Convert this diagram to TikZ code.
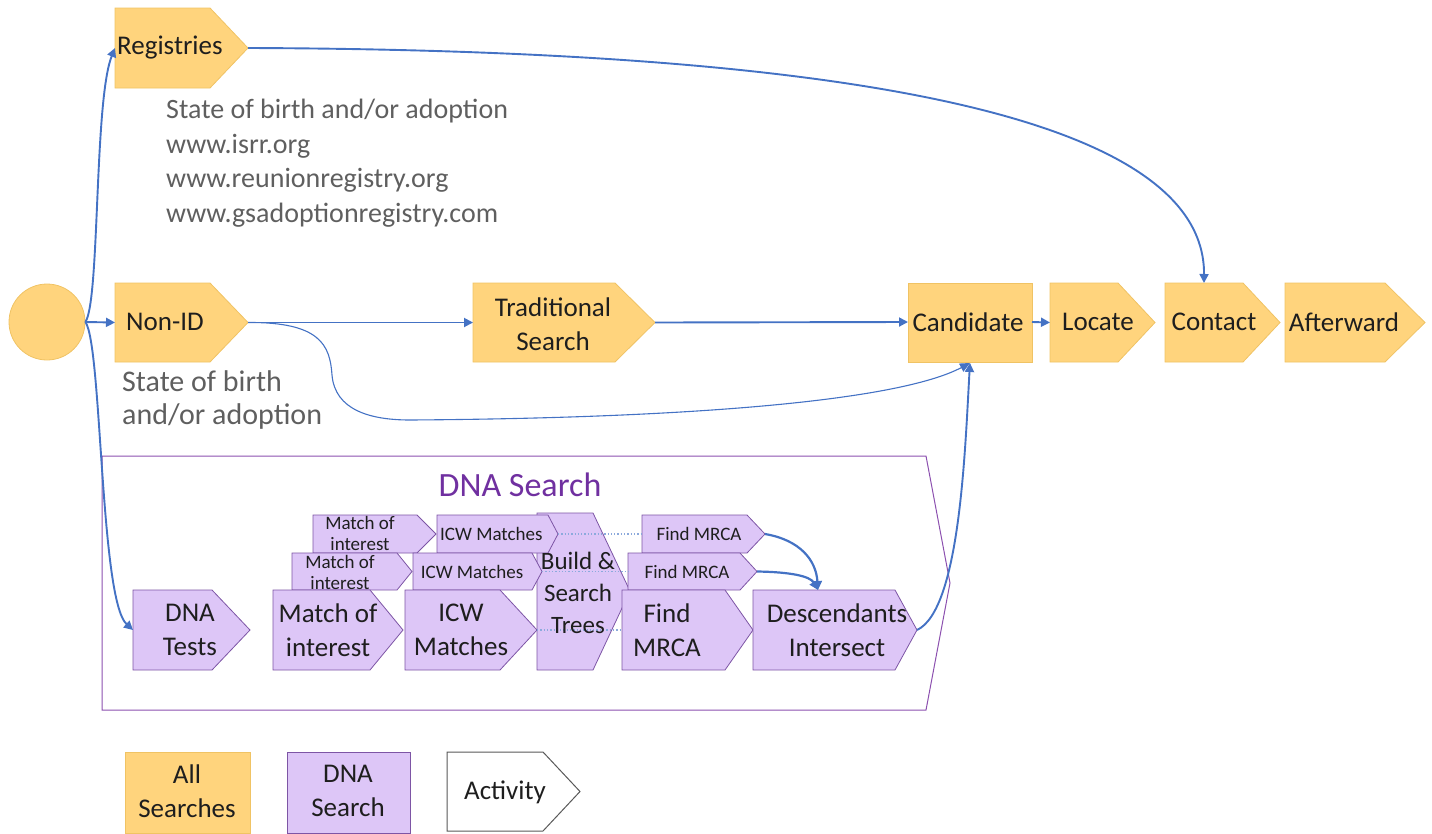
\documentclass[tikz,border=0pt]{standalone}
\usepackage{fontspec}
\setmainfont{Carlito}
\usetikzlibrary{arrows.meta}
\definecolor{orfill}{RGB}{255,212,125}
\definecolor{orline}{RGB}{240,195,100}
\definecolor{pufill}{RGB}{221,198,247}
\definecolor{puline}{RGB}{125,85,165}
\definecolor{boxline}{RGB}{140,80,175}
\definecolor{titlec}{RGB}{112,48,160}
\definecolor{tc}{RGB}{30,30,30}
\definecolor{grc}{RGB}{95,95,95}
\definecolor{bl}{RGB}{68,114,196}
\definecolor{dotc}{RGB}{140,170,220}
\newcommand\pent[7]{%
  \path[#2] (#3,#4) -- (#5,#4) -- (#6,{(#4+#7)/2}) -- (#5,#7) -- (#3,#7) -- cycle;
  \coordinate (#1-w) at (#3,{(#4+#7)/2});
  \coordinate (#1-t) at (#6,{(#4+#7)/2});
  \coordinate (#1-n) at ({(#3+#5)/2},#4);
  \coordinate (#1-s) at ({(#3+#5)/2},#7);}
\tikzset{
  orshape/.style={fill=orfill, draw=orline, line width=0.8pt},
  pushape/.style={fill=pufill, draw=puline, line width=0.8pt},
  big/.style={font=\fontsize{27}{34}\selectfont, align=center, text=tc, inner sep=0pt},
  small/.style={font=\fontsize{19}{21}\selectfont, align=center, text=tc, inner sep=0pt},
  graytxt/.style={font=\fontsize{28}{34.5}\selectfont, align=left, text=grc, inner sep=0pt},
  arr/.style={draw=bl, line width=1.9pt, -{Triangle[length=9pt,width=9pt]}},
  thinarr/.style={draw=bl, line width=1.1pt, -{Triangle[length=10pt,width=9pt]}},
  dotl/.style={draw=dotc, line width=1.3pt, dotted},
}
\begin{document}
\begin{tikzpicture}[x=1pt,y=-1pt]
\useasboundingbox (0,0) rectangle (1432,833);
% start circle
\node[circle, fill=orfill, draw=orline, line width=0.8pt, minimum size=76pt, inner sep=0pt] (start) at (47,322) {};
% top row
\pent{reg}{orshape}{115}{8}{210}{248}{88}
\node[big, anchor=west] (regt) at (117,48) {Registries};
\node[graytxt, anchor=north west] (regnote) at (166,99) {State of birth and/or adoption\\www.isrr.org\\www.reunionregistry.org\\www.gsadoptionregistry.com};
\pent{non}{orshape}{115}{283}{210}{248}{362}
\node[big] (nont) at (165,322) {Non-ID};
\node[graytxt, font=\fontsize{30}{33}\selectfont, anchor=north west] (nonnote) at (122,370) {State of birth\\and/or adoption};
\pent{trad}{orshape}{473}{283}{615}{655}{362}
\node[big] (tradt) at (553,324) {Traditional\\Search};
\path[orshape] (908,283) rectangle (1032,362);
\node[big] (cand) at (968,322) {Candidate};
\coordinate (cand-w) at (908,322);
\coordinate (cand-e) at (1032,322);
\coordinate (cand-s) at (970,363);
\pent{loc}{orshape}{1050}{283}{1118}{1155}{362}
\node[big] (loct) at (1098,322) {Locate};
\pent{con}{orshape}{1165}{283}{1243}{1280}{362}
\node[big] (cont) at (1214,322) {Contact};
\pent{aft}{orshape}{1285}{283}{1385}{1425}{362}
\node[big] (aftt) at (1344,322) {Afterward};
% DNA box
\draw[boxline, line width=1pt] (102,456) -- (926,456) -- (950,583) -- (926,710) -- (102,710) -- cycle;
\node[font=\fontsize{34}{40}\selectfont, text=titlec] (dnatitle) at (520,485) {DNA Search};
% Build shape (behind)
\path[pushape] (537,513) -- (593,513) -- (630,591) -- (593,670) -- (537,670) -- cycle;
% row 1
\pent{m1}{pushape}{313}{515}{417}{436}{553}
\node[small] (m1t) at (360,533) {Match of\\interest};
\pent{i1}{pushape}{437}{515}{548}{558}{553}
\node[small, anchor=west] (i1t) at (440,534) {ICW Matches};
\pent{f1}{pushape}{642}{515}{747}{765}{553}
\node[small] (f1t) at (699,534) {Find MRCA};
% row 2
\pent{m2}{pushape}{292}{553}{397}{412}{590}
\node[small] (m2t) at (340,572) {Match of\\interest};
\pent{i2}{pushape}{413}{553}{532}{542}{590}
\node[small] (i2t) at (472,572) {ICW Matches};
\pent{f2}{pushape}{628}{553}{740}{757}{590}
\node[small] (f2t) at (687,572) {Find MRCA};
% row 3 (big)
\pent{dt}{pushape}{133}{590}{212}{250}{670}
\node[big] (dtt) at (190,630) {DNA\\Tests};
\pent{mb}{pushape}{273}{590}{370}{403}{670}
\node[big] (mbt) at (328,630) {Match of\\interest};
\pent{ib}{pushape}{405}{590}{500}{537}{670}
\node[big] (ibt) at (461,630) {ICW\\Matches};
\pent{fb}{pushape}{622}{590}{725}{753}{670}
\node[big] (fbt) at (667,630) {Find\\MRCA};
\pent{de}{pushape}{753}{590}{895}{917}{670}
\node[big] (det) at (837,630) {Descendants\\Intersect};
% dotted links
\draw[dotl] (i1-t) -- (f1-w);
\draw[dotl] (i2-t) -- (f2-w);
\draw[dotl] (ib-t) -- (fb-w);
\node[font=\fontsize{25}{32}\selectfont, align=center, text=tc, inner sep=0pt] (buildt) at (578,593) {Build \&\\Search\\Trees};
% MRCA arrows
\coordinate (de-top) at (818,590);
\draw[arr, line width=2.2pt] (f1-t) .. controls (800,540) and (816,560) .. (de-top);
\draw[arr, line width=2.2pt] (f2-t) .. controls (790,572) and (810,576) .. (de-top);
% connectors
\draw[arr] (start.east) .. controls (100,300) and (94,100) .. (reg-w);
\draw[arr] (start.east) -- (non-w);
\draw[arr] (start.east) .. controls (102,345) and (100,600) .. (dt-w);
\draw[arr] (non-t) -- (trad-w);
\draw[arr] (trad-t) -- (cand-w);
\draw[arr] (cand-e) -- (loc-w);
\draw[arr] (reg-t) .. controls (820,50) and (1205,110) .. (con-n);
\draw[thinarr] (non-t) .. controls (320,322) and (330,345) .. (332,375) .. controls (335,410) and (370,420) .. (410,420) .. controls (700,418) and (900,400) .. (cand-s);
\draw[arr] (de-t) .. controls (960,610) and (965,450) .. (cand-s);
% legend
\path[orshape] (125,752) rectangle (250,833);
\node[big] (lg1) at (187,791) {All\\Searches};
\path[pushape] (287,752) rectangle (410,833);
\node[big] (lg2) at (348,791) {DNA\\Search};
\pent{act}{draw=black!65, fill=white, line width=1pt}{447}{752}{543}{580}{831}
\node[big] (lg3) at (505,792) {Activity};
\end{tikzpicture}
\end{document}
